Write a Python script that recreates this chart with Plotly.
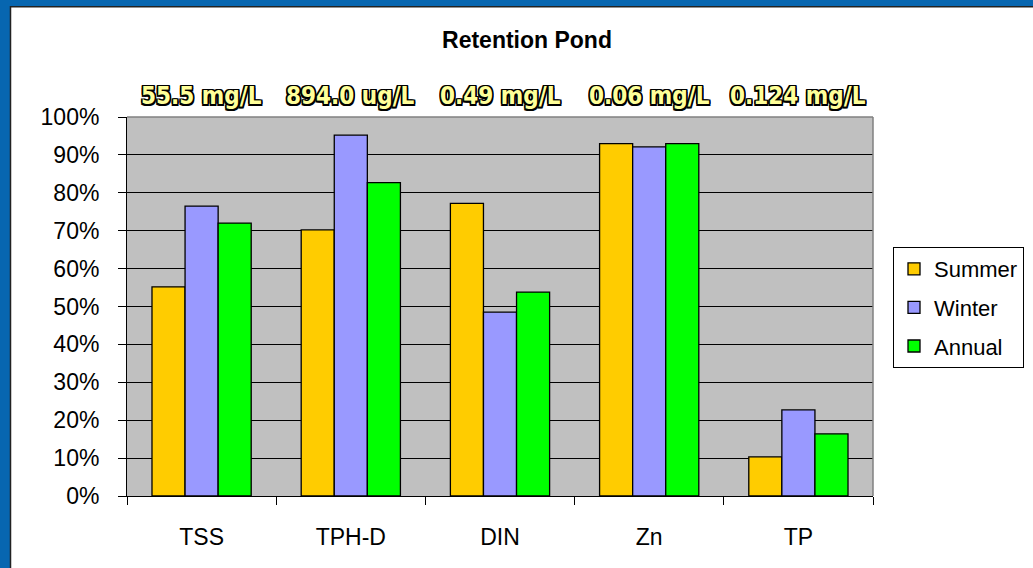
import plotly.graph_objects as go

categories = ["TSS", "TPH-D", "DIN", "Zn", "TP"]
summer = [55.2, 70.2, 77.2, 93.0, 10.3]
winter = [76.5, 95.2, 48.5, 92.1, 22.7]
annual = [72.0, 82.7, 53.8, 93.0, 16.4]
concentrations = ["55.5 mg/L", "894.0 ug/L", "0.49 mg/L", "0.06 mg/L", "0.124 mg/L"]
y_ticks = [0, 10, 20, 30, 40, 50, 60, 70, 80, 90, 100]
y_ticktext = [f"{v}%" for v in y_ticks]

W, H = 1033, 568
L, R, T, B = 127, 873, 117, 496

def px_x(p):
    return (p - L) / (R - L)

def px_y(p):
    return (B - p) / (B - T)

fig = go.Figure()
series = [("Summer", summer, "#FFCC00"), ("Winter", winter, "#9999FF"), ("Annual", annual, "#00FF00")]
for name, vals, col in series:
    fig.add_trace(go.Bar(
        x=categories, y=vals, name=name, legendgroup=name,
        marker=dict(color=col, line=dict(color="#000000", width=1.3)),
    ))

font_main = "Liberation Sans, Arial, sans-serif"
fig.update_layout(
    width=W, height=H,
    margin=dict(l=L, r=W - R, t=T, b=H - B, pad=0, autoexpand=False),
    paper_bgcolor="#FFFFFF",
    plot_bgcolor="#C0C0C0",
    barmode="group",
    bargap=0.335,
    bargroupgap=0,
    font=dict(family=font_main, size=22, color="#000000"),
    title=dict(text="<b>Retention Pond</b>", x=527 / W, xanchor="center",
               y=1 - 40 / H, yanchor="middle",
               font=dict(family=font_main, size=23, color="#000000")),
    legend=dict(
        x=px_x(893), y=px_y(247), xanchor="left", yanchor="top",
        bordercolor="#000000", borderwidth=1, bgcolor="#FFFFFF",
        font=dict(family=font_main, size=22, color="#000000"),
        tracegroupgap=7, itemwidth=30,
    ),
    xaxis=dict(
        showgrid=False, ticks="outside", tickson="boundaries", ticklen=8,
        tickcolor="#000000", showline=True, linecolor="#000000", linewidth=1,
        tickfont=dict(family=font_main, size=23), ticklabelstandoff=20,
    ),
    yaxis=dict(
        range=[0, 100], tickmode="array", tickvals=y_ticks, ticktext=y_ticktext,
        showgrid=True, gridcolor="#000000", gridwidth=1,
        ticks="outside", ticklen=8, tickcolor="#000000",
        showline=True, linecolor="#000000", linewidth=1,
        tickfont=dict(family=font_main, size=23), zeroline=False,
        ticklabelstandoff=14,
    ),
)

# outer blue frame (left and top) with dark inner edge
shapes = [
    dict(type="rect", xref="paper", yref="paper", x0=px_x(0), x1=px_x(10), y0=px_y(H), y1=px_y(0),
         fillcolor="#0766B0", line=dict(width=0), layer="below"),
    dict(type="rect", xref="paper", yref="paper", x0=px_x(0), x1=px_x(W), y0=px_y(6), y1=px_y(0),
         fillcolor="#0766B0", line=dict(width=0), layer="below"),
    dict(type="line", xref="paper", yref="paper", x0=px_x(10.5), x1=px_x(10.5), y0=px_y(H), y1=px_y(6),
         line=dict(color="#222222", width=1.5)),
    dict(type="line", xref="paper", yref="paper", x0=px_x(10), x1=px_x(W), y0=px_y(6.8), y1=px_y(6.8),
         line=dict(color="#222222", width=1.5)),
    # plot area border (gray) on top/right
    dict(type="line", xref="paper", yref="paper", x0=0, x1=1, y0=1, y1=1,
         line=dict(color="#808080", width=1.5)),
    dict(type="line", xref="paper", yref="paper", x0=1, x1=1, y0=0, y1=1,
         line=dict(color="#808080", width=1.5)),
]
fig.update_layout(shapes=shapes)

outline = ("1.5px 1.5px 0 #000, -1.5px -1.5px 0 #000, 1.5px -1.5px 0 #000, -1.5px 1.5px 0 #000, "
           "0 1.5px 0 #000, 0 -1.5px 0 #000, 1.5px 0 0 #000, -1.5px 0 0 #000")
for cat, txt in zip(categories, concentrations):
    fig.add_annotation(
        x=cat, xref="x", y=px_y(96), yref="paper", text="<b>" + txt + "</b>",
        showarrow=False, xanchor="center", yanchor="middle",
        font=dict(family="DejaVu Sans Condensed, Liberation Sans, sans-serif",
                  size=24, color="#FFFF99", shadow=outline),
    )

fig.write_html("out.html", config={"displayModeBar": False},
               post_script="document.body.style.margin='0';document.body.style.overflow='hidden';")
